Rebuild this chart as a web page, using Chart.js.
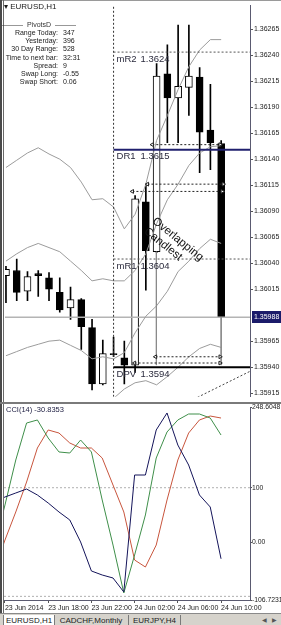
<!DOCTYPE html>
<html lang="en">
<head>
<meta charset="UTF-8">
<title>EURUSD,H1</title>
<script src="https://cdn.jsdelivr.net/npm/chart.js@4.4.0/dist/chart.umd.min.js"></script>
<style>
  html, body { margin: 0; padding: 0; background: #fff; }
  body { width: 281px; height: 625px; position: relative; overflow: hidden; font-family: "Liberation Sans", Arial, sans-serif; color: #1a1a1a; }
  canvas { position: absolute; left: 0; }
  #main { top: 0; }
  #cci { top: 402px; }
  .ln { position: absolute; background: #6a6a6a; }
  #info { position: absolute; left: 0; top: 0; font-size: 7px; line-height: 8.2px; }
  #info .ttl { position: absolute; left: 4px; top: 3px; font-size: 8px; white-space: nowrap; }
  #info .hdr { position: absolute; left: 0; top: 21px; width: 78px; text-align: center; white-space: nowrap; color: #333; }
  #info .row { position: absolute; left: 0; width: 100px; white-space: nowrap; }
  #info .k { display: inline-block; width: 58px; text-align: right; }
  #info .v { display: inline-block; margin-left: 5px; }
  #tabs { position: absolute; left: 0; top: 613px; width: 281px; height: 12px; background: #d6d3cc; border-top: 1px solid #8a8a8a; font-size: 8px; }
  #tabs .tab { position: absolute; top: 1px; height: 11px; line-height: 11px; text-align: center; white-space: nowrap; border-right: 1px solid #7a7a7a; color: #222; }
  #tabs .on { background: #fff; border-left: 1px solid #7a7a7a; }
  #tabs .arr { position: absolute; top: 1px; font-size: 6px; line-height: 11px; color: #555; }
</style>
</head>
<body>
<canvas id="main" width="281" height="402"></canvas>
<canvas id="cci" width="281" height="211"></canvas>
<div class="ln" style="left:0;top:0;width:281px;height:1px;background:#9a9a9a"></div>
<div class="ln" style="left:0;top:0;width:2px;height:613px;background:#4a4a4a"></div>
<div class="ln" style="left:3px;top:0;width:1px;height:613px"></div>
<div class="ln" style="left:0;top:402px;width:281px;height:2px;background:#7a7a7a"></div>
<div id="info"></div>
<div id="tabs"></div>
<script>
// ---- bars: 23 Jun 14:00 .. 24 Jun 10:00, H1
const barIdx = [0,1,2,3,4,5,6,7,8,9,10,11,12,13,14,15,16,17,18,19,20];
const opens  = [1.36028,1.36033,1.36013,1.36030,1.36026,1.36012,1.35997,1.36005,1.35978,1.35924,1.35953,1.35949,1.35942,1.36099,1.36051,1.36222,1.36199,1.36209,1.36219,1.36168,1.36155];
const highs  = [1.36037,1.36044,1.36032,1.36033,1.36031,1.36026,1.36017,1.36006,1.35986,1.35966,1.35969,1.35965,1.36105,1.36116,1.36232,1.36250,1.36269,1.36269,1.36228,1.36212,1.36158];
const lows   = [1.36002,1.36004,1.36004,1.36008,1.36004,1.35993,1.35986,1.35957,1.35918,1.35923,1.35950,1.35924,1.35935,1.36014,1.36050,1.36156,1.36156,1.36182,1.36127,1.36130,1.35988];
const closes = [1.36034,1.36012,1.36027,1.36028,1.36015,1.35995,1.36005,1.35979,1.35924,1.35953,1.35952,1.35942,1.36102,1.36052,1.36220,1.36199,1.36210,1.36220,1.36166,1.36156,1.35988];

// grey band lines
const bandA = [1.36132,1.36139,1.36146,1.36151,1.36145,1.36140,1.36132,1.36118,1.36101,1.36102,1.36094,1.36073,1.36087,1.36116,1.36158,1.36182,1.36207,1.36229,1.36245,1.36255,1.36255];
const bandB = [1.36042,1.36049,1.36055,1.36059,1.36055,1.36051,1.36042,1.36033,1.36023,1.36025,1.36023,1.36023,1.36033,1.36049,1.36078,1.36101,1.36116,1.36134,1.36146,1.36152,1.36153];
const bandC = [1.35951,1.35955,1.35959,1.35962,1.35965,1.35966,1.35961,1.35956,1.35948,1.35950,1.35948,1.35954,1.35973,1.35989,1.35999,1.36013,1.36032,1.36042,1.36054,1.36063,1.36059];
const bandD = [null,null,null,null,null,null,null,null,null,null,1.35910,1.35919,1.35925,1.35927,1.35923,1.35931,1.35940,1.35950,1.35958,1.35962,1.35959];

// daily pivots (drawn from the day start bar)
const dayStart = 10;
const pivotNames  = ['mR2', 'DR1', 'mR1', 'DPV'];
const pivotLevels = [1.36243, 1.36149, 1.36044, 1.35940];
const pivotTexts  = ['1.3624', '1.3615', '1.3604', '1.3594'];
const lastPrice = 1.35988;

// price axis
const yMin = 1.359115, yMax = 1.362881;
const yTicks = [1.36265,1.36240,1.36215,1.36190,1.36165,1.36140,1.36115,1.36090,1.36065,1.36040,1.36015,1.35965,1.35940,1.35915];
const xMin = -0.09, xMax = 22.68;

// hand drawn "overlapping candles" objects
const arrowY    = [1.36154, 1.36116, 1.36109, 1.35950, 1.35944];
const arrowFrom = [13.6, 13.15, 11.75, 13.9, 11.95];
const arrowTo   = [19.9, 20.2, 20.1, 19.9, 19.9];
const vLineX    = [13.98, 20];
const vLineTop  = [1.36051, 1.35988];
const vLineBot  = [1.35942, 1.35942];
const diagX = [17.8, 22.68];
const diagY = [1.35911, 1.35936];
const noteLines = ['Overlapping', 'Candlest'];
const noteX = 14.07, noteY = 1.36086;

// CCI window (first value is the bar before the first candle)
const cciIdx   = [-1,0,1,2,3,4,5,6,7,8,9,10,11,12,13,14,15,16,17,18,19,20];
const cciNavy  = [74,82.9,90.3,97.6,86.6,71.9,55.3,40.6,0.1,-53.3,-60.7,-66.2,-92.0,123.4,123.4,206.3,237.6,178.6,141.8,86.6,64.5,-30.8353];
const cciGreen = [-10,68.2,151.0,219.1,224.7,191.5,165.8,163.9,187.8,165.8,77.4,-5.5,-93.8,-23.9,49.8,154.7,202.6,224.7,235.7,235.7,228.3,197.0];
const cciRed   = [-51.5,3.7,55.3,110.5,173.1,206.3,200.7,182.3,173.1,173.1,154.7,105.0,55.3,-33.1,-46.0,-5.5,77.4,151.0,200.7,224.7,232.0,228.3];
const cciMin = -106.7231, cciMax = 248.6048;
const cciTicks = [248.6048, 100, 0, -106.7231];
const cciTickLabels = ['248.6048', '100', '0.00', '-106.7231'];
const cciLevels = [100, -100];
const timeTickIdx = [0, 4, 8, 12, 16, 20];
const timeLabels = ['23 Jun 2014', '23 Jun 18:00', '23 Jun 22:00', '24 Jun 02:00', '24 Jun 06:00', '24 Jun 10:00'];

// info panel
const infoKeys = ['Range Today:', 'Yesterday:', '30 Day Range:', 'Time to next bar:', 'Spread:', 'Swap  Long:', 'Swap  Short:'];
const infoVals = ['347', '396', '528', '32:31', '9', '-0.55', '0.06'];
const tabNames = ['EURUSD,H1', 'CADCHF,Monthly', 'EURJPY,H4'];

const FONT = '"Liberation Sans", Arial, sans-serif';

// build the html bits
const info = document.getElementById('info');
info.innerHTML = '<div class="ttl">&#9662; EURUSD,H1</div><div class="hdr">&#8212;&#8212;&#8212;&nbsp; PivotsD &nbsp;&#8212;&#8212;&#8212;</div>';
infoKeys.forEach((k, i) => {
  const r = document.createElement('div');
  r.className = 'row';
  r.style.top = (29 + i * 8.2) + 'px';
  r.innerHTML = '<span class="k">' + k + '</span><span class="v">' + infoVals[i] + '</span>';
  info.appendChild(r);
});
const tabs = document.getElementById('tabs');
const tabPos = [[3, 50], [54, 74], [129, 51]];
tabNames.forEach((t, i) => {
  const d = document.createElement('div');
  d.className = 'tab' + (i === 0 ? ' on' : '');
  d.style.left = tabPos[i][0] + 'px';
  d.style.width = tabPos[i][1] + 'px';
  d.textContent = t;
  tabs.appendChild(d);
});
tabs.insertAdjacentHTML('beforeend', '<div class="arr" style="left:262px">&#9664;</div><div class="arr" style="left:272px">&#9654;</div>');

// helpers
const pts = (xs, ys) => xs.map((x, i) => ({x: x, y: ys[i]}));
const flatLine = (x0, x1, v) => [{x: x0, y: v}, {x: x1, y: v}];
function lineSet(data, color, width, dash, order) {
  return {type: 'line', data: data, borderColor: color, borderWidth: width, borderDash: dash || [],
          pointRadius: 0, tension: 0, spanGaps: false, order: order || 0};
}

const datasets = [];
// candles: wick then body
datasets.push({type: 'bar', data: barIdx.map((x, i) => ({x: x, y: [lows[i], highs[i]]})),
  backgroundColor: '#000', borderWidth: 0, barThickness: 1, grouped: false, order: 20});
datasets.push({type: 'bar', data: barIdx.map((x, i) => ({x: x, y: [opens[i], closes[i]]})),
  backgroundColor: barIdx.map((x, i) => closes[i] >= opens[i] ? '#fff' : '#000'),
  borderColor: '#000', borderWidth: 1, borderSkipped: false, barThickness: 7, grouped: false, order: 19});
// bands
[bandA, bandB, bandC, bandD].forEach(b => datasets.push(lineSet(pts(barIdx, b), '#9c9c9c', 1, null, 5)));
// current price line
datasets.push(lineSet(flatLine(xMin, xMax, lastPrice), '#b4b4b4', 1.5, null, 6));
// day separator
datasets.push(lineSet([{x: dayStart, y: yMin}, {x: dayStart, y: yMax}], '#333', 1, [2, 2], 4));
// pivot lines
const pivotColors = ['#555', '#20206e', '#555', '#000'];
const pivotWidths = [1, 2, 1, 2];
const pivotDash = [[2, 2], [], [2, 2], []];
pivotLevels.forEach((v, k) => datasets.push(lineSet(flatLine(dayStart, xMax, v), pivotColors[k], pivotWidths[k], pivotDash[k], 3)));
// drawn objects
vLineX.forEach((x, k) => datasets.push(lineSet([{x: x, y: vLineTop[k]}, {x: x, y: vLineBot[k]}], '#8a8a8a', 1, null, 2)));
arrowY.forEach((v, k) => {
  const ds = lineSet(flatLine(arrowFrom[k], arrowTo[k], v), '#222', 1, [2, 2], 1);
  ds.pointRadius = 2.2;
  ds.pointStyle = 'triangle';
  ds.rotation = [-90, 90];
  ds.pointBackgroundColor = '#fff';
  ds.pointBorderColor = '#222';
  ds.pointBorderWidth = 1;
  datasets.push(ds);
});
datasets.push(lineSet(pts(diagX, diagY), '#444', 1, [2, 2], 1));

const mainText = {
  id: 'mainText',
  afterDatasetsDraw(chart) {
    const {ctx, scales: {x, y}} = chart;
    ctx.save();
    ctx.font = '9.5px ' + FONT;
    ctx.fillStyle = '#2a2a3c';
    ctx.textBaseline = 'middle';
    ctx.textAlign = 'left';
    const px = x.getPixelForValue(dayStart);
    pivotNames.forEach((n, k) => {
      const py = y.getPixelForValue(pivotLevels[k]) + 7;
      ctx.fillText(n, px + 3, py);
      ctx.fillText(pivotTexts[k], px + 27, py);
    });
    // rotated note
    ctx.translate(x.getPixelForValue(noteX), y.getPixelForValue(noteY));
    ctx.rotate(39 * Math.PI / 180);
    ctx.font = '11.5px ' + FONT;
    ctx.fillStyle = '#111';
    ctx.textBaseline = 'top';
    noteLines.forEach((t, i) => ctx.fillText(t, 0, i * 13));
    ctx.restore();
  },
  afterDraw(chart) {
    const {ctx, scales: {x, y}} = chart;
    const py = Math.round(y.getPixelForValue(lastPrice));
    ctx.save();
    ctx.fillStyle = '#1b1b6a';
    ctx.fillRect(x.right + 2, py - 6, 29, 12);
    ctx.fillStyle = '#fff';
    ctx.font = '7px ' + FONT;
    ctx.textBaseline = 'middle';
    ctx.fillText(lastPrice.toFixed(5), x.right + 4, py);
    ctx.restore();
  }
};

new Chart(document.getElementById('main'), {
  type: 'line',
  data: {datasets: datasets},
  options: {
    responsive: false, animation: false, events: [],
    layout: {padding: {left: 4, top: 3, right: 0, bottom: 2}},
    plugins: {legend: {display: false}, tooltip: {enabled: false}},
    scales: {
      x: {type: 'linear', display: false, min: xMin, max: xMax, offset: false},
      y: {
        type: 'linear', position: 'right', min: yMin, max: yMax,
        afterBuildTicks: s => { s.ticks = yTicks.map(v => ({value: v})); },
        afterFit: s => { s.width = 31; },
        ticks: {font: {size: 7, family: FONT}, color: '#222', padding: 1, callback: v => v.toFixed(5)},
        grid: {drawOnChartArea: false, tickLength: 3, color: '#555'},
        border: {color: '#5a5a70', width: 1}
      }
    }
  },
  plugins: [mainText]
});

// CCI window
const cciTitle = {
  id: 'cciTitle',
  afterDraw(chart) {
    const {ctx, chartArea} = chart;
    ctx.save();
    ctx.font = '7.5px ' + FONT;
    ctx.fillStyle = '#1c1c40';
    ctx.textBaseline = 'middle';
    ctx.fillText('CCI(14) ' + cciNavy[cciNavy.length - 1].toFixed(4), chartArea.left + 2, chartArea.top + 3);
    ctx.restore();
  }
};

new Chart(document.getElementById('cci'), {
  type: 'line',
  data: {datasets: [
    lineSet(flatLine(xMin, xMax, cciLevels[0]), '#b0b0b0', 1, [2, 2], 5),
    lineSet(flatLine(xMin, xMax, cciLevels[1]), '#b0b0b0', 1, [2, 2], 5),
    lineSet(pts(cciIdx, cciRed), '#c8553d', 1, null, 3),
    lineSet(pts(cciIdx, cciGreen), '#3f8f4a', 1, null, 2),
    lineSet(pts(cciIdx, cciNavy), '#14145a', 1, null, 1)
  ]},
  options: {
    responsive: false, animation: false, events: [],
    layout: {padding: {left: 4, top: 5, right: 0, bottom: 0}},
    plugins: {legend: {display: false}, tooltip: {enabled: false}},
    scales: {
      x: {
        type: 'linear', min: xMin, max: xMax, offset: false,
        afterBuildTicks: s => { s.ticks = timeTickIdx.map(v => ({value: v})); },
        afterFit: s => { s.height = 13; },
        ticks: {autoSkip: false, maxRotation: 0, align: 'start', padding: 1, font: {size: 7, family: FONT}, color: '#222',
                callback: (v, i) => timeLabels[i]},
        grid: {drawOnChartArea: false, tickLength: 3, color: '#555'},
        border: {color: '#5a5a70'}
      },
      y: {
        type: 'linear', position: 'right', min: cciMin, max: cciMax,
        afterBuildTicks: s => { s.ticks = cciTicks.map(v => ({value: v})); },
        afterFit: s => { s.width = 31; },
        ticks: {font: {size: 6.8, family: FONT}, color: '#222', padding: 0, callback: (v, i) => cciTickLabels[i]},
        grid: {drawOnChartArea: false, tickLength: 2, color: '#555'},
        border: {color: '#5a5a70'}
      }
    }
  },
  plugins: [cciTitle]
});
</script>
</body>
</html>
